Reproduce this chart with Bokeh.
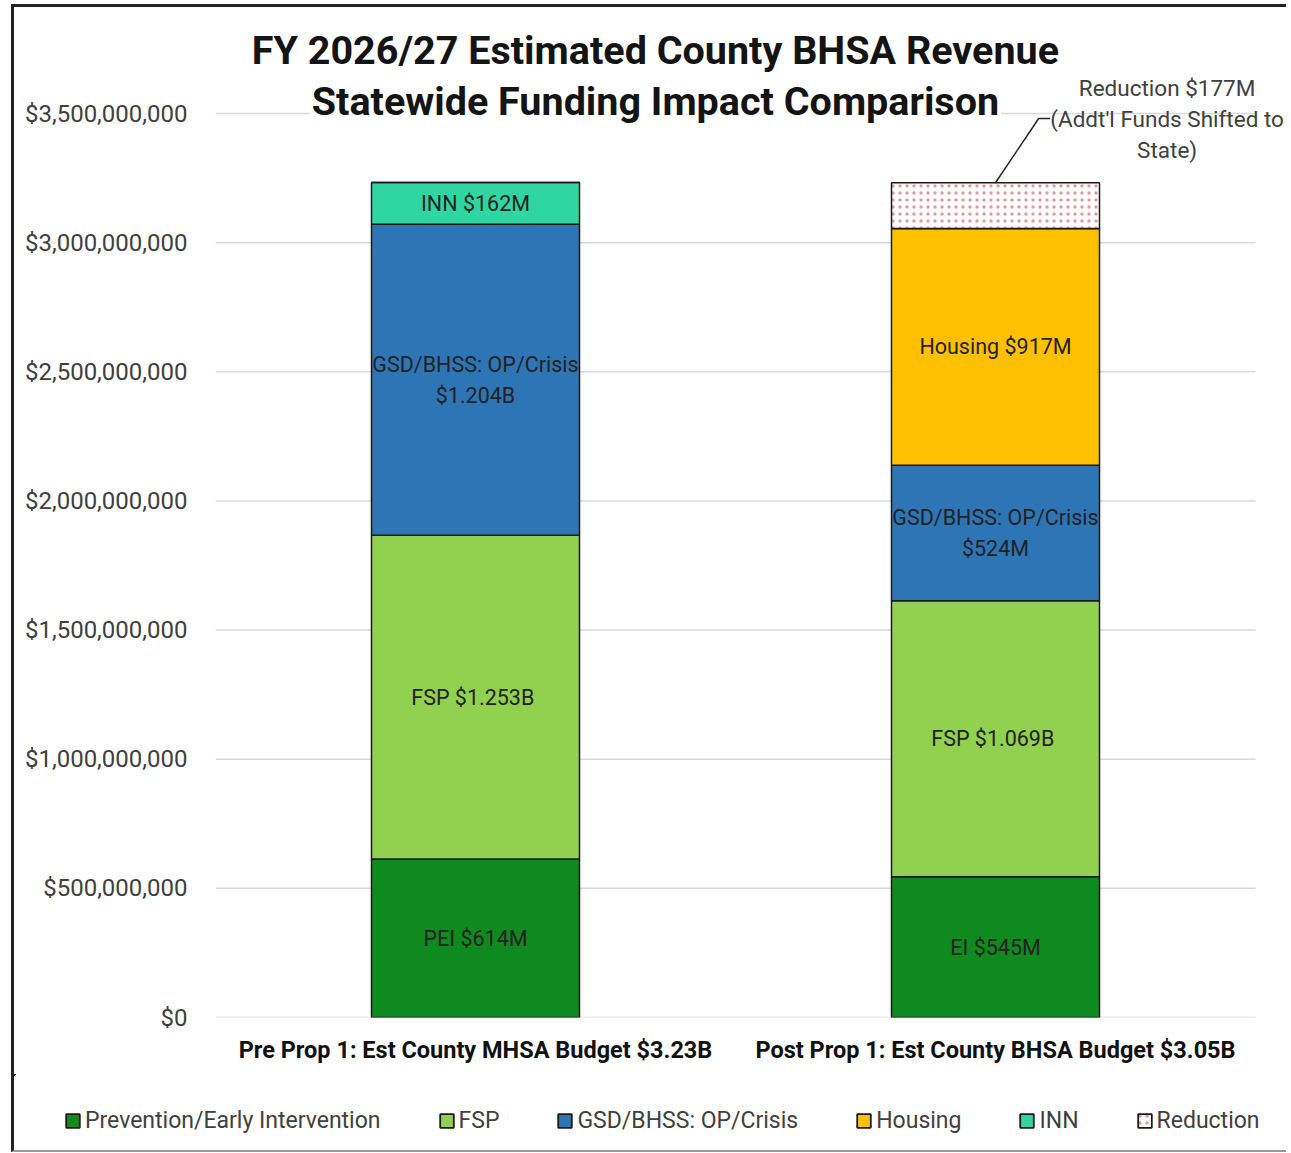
from bokeh.plotting import figure
from bokeh.models import (ColumnDataSource, Range1d, FixedTicker,
                          NumeralTickFormatter)
from bokeh.core.properties import value
from bokeh.embed import file_html
from bokeh.resources import INLINE

# ---- data ----
categories = ["Pre Prop 1: Est County MHSA Budget $3.23B",
              "Post Prop 1: Est County BHSA Budget $3.05B"]
series = ["pei", "fsp", "gsd", "housing", "inn", "reduction"]
legend_labels = ["Prevention/Early Intervention", "FSP", "GSD/BHSS: OP/Crisis",
                 "Housing", "INN", "Reduction"]
pei = [614e6, 545e6]
fsp = [1253e6, 1069e6]
gsd = [1204e6, 524e6]
housing = [0, 917e6]
inn = [162e6, 0]
reduction = [0, 177e6]
seg_labels = {
    "pei": ["PEI $614M", "EI $545M"],
    "fsp": ["FSP  $1.253B", "FSP  $1.069B"],
    "gsd": ["GSD/BHSS: OP/Crisis\n$1.204B", "GSD/BHSS: OP/Crisis\n$524M"],
    "housing": ["", "Housing $917M"],
    "inn": ["INN $162M", ""],
}
y_ticks = [0, 500e6, 1000e6, 1500e6, 2000e6, 2500e6, 3000e6, 3500e6]
title_lines = ["FY 2026/27 Estimated County BHSA Revenue",
               "Statewide Funding Impact Comparison"]
callout_lines = ["Reduction $177M", "(Addt'l Funds Shifted to", "State)"]

colors = ["#0f8a1f", "#92d050", "#2e75b6", "#ffc000", "#2fd6a0", "#ffffff"]

xpos = [i + 0.5 for i in range(len(categories))]
src = ColumnDataSource(dict(x=xpos, pei=pei, fsp=fsp, gsd=gsd,
                            housing=housing, inn=inn, reduction=reduction))

W = 1275
FRAME_LEFT = 201
FRAME_H = 1010
H_MAIN = 1070
H_LEG = 78


def style_hatch(r):
    r.glyph.hatch_pattern = "dot"
    r.glyph.hatch_color = "#c03848"
    r.glyph.hatch_alpha = 0.5
    r.glyph.hatch_scale = 7
    r.glyph.hatch_weight = 1.3


p = figure(width=W, height=H_MAIN,
           x_range=Range1d(0, 2 + 34 / 520),
           y_range=Range1d(0, 3.5e9 * FRAME_H / 904),
           output_backend="svg", toolbar_location=None,
           min_border_left=FRAME_LEFT, min_border_right=0, min_border_top=0,
           min_border_bottom=H_MAIN - FRAME_H)
p.styles = {"margin-left": "11px", "margin-top": "4px",
            "border-left": "3px solid #222", "border-top": "3px solid #222"}
p.outline_line_color = None
p.background_fill_color = "white"

# gridlines spanning the two category slots only
p.segment(x0=[0] * len(y_ticks), x1=[len(categories)] * len(y_ticks),
          y0=y_ticks, y1=y_ticks, line_color="#d9d9d9", line_width=1.5,
          level="underlay")

renderers = p.vbar_stack(series, x="x", width=0.4, source=src, color=colors,
                         line_color="#1a1a1a", line_width=1.5)
style_hatch(renderers[-1])

# segment labels at segment midpoints
lab_x, lab_y, lab_t = [], [], []
for i, xv in enumerate(xpos):
    base = 0.0
    for s, vals in zip(series, [pei, fsp, gsd, housing, inn, reduction]):
        v = vals[i]
        if s in seg_labels and seg_labels[s][i]:
            lab_x.append(xv)
            lab_y.append(base + v / 2)
            lab_t.append(seg_labels[s][i])
        base += v
p.text(x=lab_x, y=lab_y, text=lab_t, text_align="center", text_baseline="middle",
       text_font=value("Roboto"), text_font_size="21.5px", text_color="#222222",
       text_line_height=1.25)

# title
title_x = 0.846
p.text(x=[title_x], y=[3.7439e9], text=[title_lines[0]], text_align="center",
       text_baseline="middle", text_font=value("Roboto"), text_font_style="bold",
       text_font_size="39.5px", text_color="#141414")
p.text(x=[title_x], y=[3.5465e9], text=[title_lines[1]], text_align="center",
       text_baseline="middle", text_font=value("Roboto"), text_font_style="bold",
       text_font_size="39.5px", text_color="#141414",
       background_fill_color="white", padding=2)

# callout for reduction
total_post = pei[1] + fsp[1] + gsd[1] + housing[1] + reduction[1]
p.line(x=[1.5, 1.583, 1.605], y=[total_post, 3.4806e9, 3.4806e9],
       line_color="#222222", line_width=1.5)
p.text(x=[1.830] * 3, y=[3.6e9, 3.4806e9, 3.3606e9], text=callout_lines,
       text_align="center", text_baseline="middle", text_font=value("Roboto"),
       text_font_size="22.5px", text_color="#404040")

# axes
p.yaxis.ticker = FixedTicker(ticks=y_ticks)
p.yaxis.formatter = NumeralTickFormatter(format="$0,0")
p.yaxis.axis_line_color = None
p.yaxis.major_tick_line_color = None
p.yaxis.minor_tick_line_color = None
p.yaxis.major_label_text_font = "Roboto"
p.yaxis.major_label_text_font_size = "24px"
p.yaxis.major_label_text_color = "#404040"
p.yaxis.major_label_standoff = 22

p.xaxis.ticker = FixedTicker(ticks=xpos)
p.xaxis.major_label_overrides = {xv: c for xv, c in zip(xpos, categories)}
p.xaxis.axis_line_color = None
p.xaxis.major_tick_line_color = None
p.xaxis.minor_tick_line_color = None
p.xaxis.major_label_text_font = "Roboto"
p.xaxis.major_label_text_font_style = "bold"
p.xaxis.major_label_text_font_size = "23.5px"
p.xaxis.major_label_text_color = "#111111"
p.xaxis.major_label_standoff = 12
p.xgrid.visible = False
p.ygrid.visible = False

# legend strip: same series, ranges far from the data so only the legend shows
leg = figure(width=W, height=H_LEG, x_range=Range1d(100, 101),
             y_range=Range1d(-20e9, -19e9),
             output_backend="svg", toolbar_location=None,
             x_axis_type=None, y_axis_type=None, min_border=0)
leg.styles = {"margin-left": "11px", "border-left": "3px solid #222",
              "border-bottom": "2px solid #999"}
leg.outline_line_color = None
leg.grid.visible = False
lr = leg.vbar_stack(series, x="x", width=0.4, source=src, color=colors,
                    line_color="#1a1a1a", line_width=1.8,
                    legend_label=legend_labels)
style_hatch(lr[-1])
lg = leg.legend[0]
lg.orientation = "horizontal"
lg.location = (50, 18)
lg.border_line_color = None
lg.background_fill_alpha = 0
lg.padding = 0
lg.margin = 0
lg.spacing = 57
lg.glyph_width = 17
lg.glyph_height = 17
lg.label_standoff = 4
lg.label_text_font = "Roboto"
lg.label_text_font_size = "23px"
lg.label_text_color = "#404040"

open("out.html", "w").write(file_html([p, leg], INLINE))
